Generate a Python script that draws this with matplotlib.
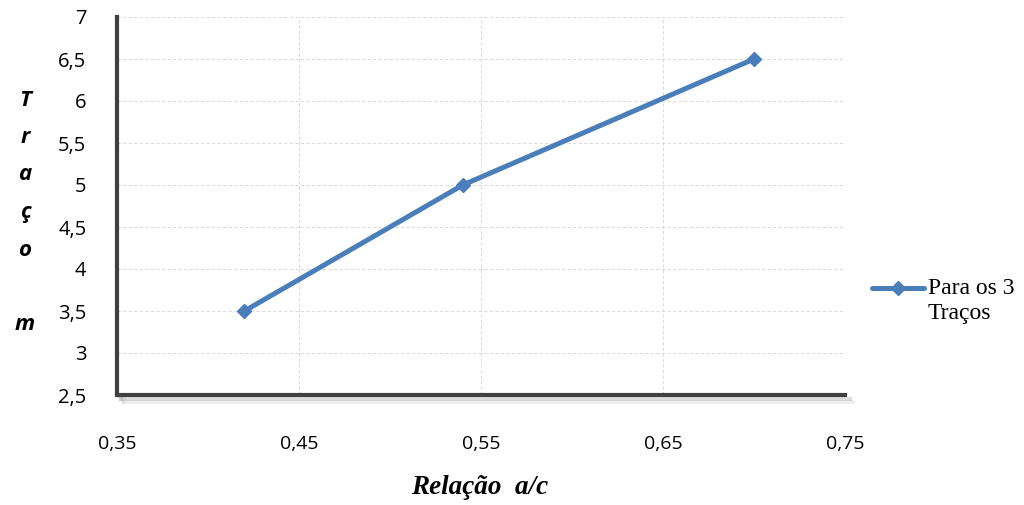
import matplotlib.pyplot as plt
from matplotlib.lines import Line2D

# dados do gráfico
relacao_ac = [0.42, 0.54, 0.70]
traco_m = [3.5, 5.0, 6.5]
x_ticks = [0.35, 0.45, 0.55, 0.65, 0.75]
y_ticks = [2.5, 3, 3.5, 4, 4.5, 5, 5.5, 6, 6.5, 7]
serie = 'Para os 3\nTraços'

azul = '#4A7EBB'
cinza = '#404040'

fig = plt.figure(figsize=(10.24, 5.05), dpi=100)
ax = fig.add_axes([117/1024, 1 - 395/505, (845 - 117)/1024, (395 - 17)/505])

ax.plot(relacao_ac, traco_m, color=azul, lw=3.6, marker='D', ms=7,
        solid_capstyle='round', zorder=3)

ax.set_xlim(0.35, 0.75)
ax.set_ylim(2.5, 7)
ax.set_xticks(x_ticks)
ax.set_yticks(y_ticks)
ax.set_xticklabels([f'{v:.2f}'.replace('.', ',') for v in x_ticks],
                   fontfamily='Open Sans', fontsize=14)
ax.set_yticklabels([f'{v:g}'.replace('.', ',') for v in y_ticks],
                   fontfamily='Open Sans', fontsize=14.5)
ax.tick_params(axis='x', length=0, pad=29)
ax.tick_params(axis='y', length=0, pad=22)

ax.grid(True, color='#DCDCDC', lw=0.8, ls=(0, (3, 2)))
ax.set_axisbelow(True)

for s in ['top', 'right']:
    ax.spines[s].set_visible(False)
for s in ['left', 'bottom']:
    ax.spines[s].set_color(cinza)
    ax.spines[s].set_linewidth(3)

# sombra dos eixos
for off, a in [(4, 0.35), (7, 0.15)]:
    sombra = dict(color='#A0A0A0', lw=3, alpha=a, transform=fig.transFigure, zorder=0)
    fig.add_artist(Line2D([(117 + off)/1024] * 2, [1 - (19 + off)/505, 1 - (395 + off)/505], **sombra))
    fig.add_artist(Line2D([(117 + off)/1024, (846 + off)/1024], [1 - (395 + off)/505] * 2, **sombra))

# rótulo vertical do eixo y
letras = ['T', 'r', 'a', 'ç', 'o', '', 'm']
for i, c in enumerate(letras):
    fig.text(25/1024, 1 - (100 + i * 37.5)/505, c, ha='center', va='center',
             fontfamily='Open Sans', fontweight='bold', fontstyle='italic', fontsize=16)

fig.text(480/1024, 1 - 487/505, 'Relação  a/c', ha='center', va='center',
         fontfamily='Liberation Serif', fontweight='bold', fontstyle='italic', fontsize=19.5)

# legenda
fig.add_artist(Line2D([872/1024, 924/1024], [1 - 288/505, 1 - 288/505], color=azul,
                      lw=3.6, solid_capstyle='round', transform=fig.transFigure))
fig.add_artist(Line2D([898/1024], [1 - 288/505], color=azul, marker='D', ms=7,
                      transform=fig.transFigure))
fig.text(928/1024, 1 - 301/505, serie, ha='left', va='center', linespacing=1.25,
         fontfamily='Liberation Serif', fontsize=17)

fig.savefig('out.png', dpi=100)
